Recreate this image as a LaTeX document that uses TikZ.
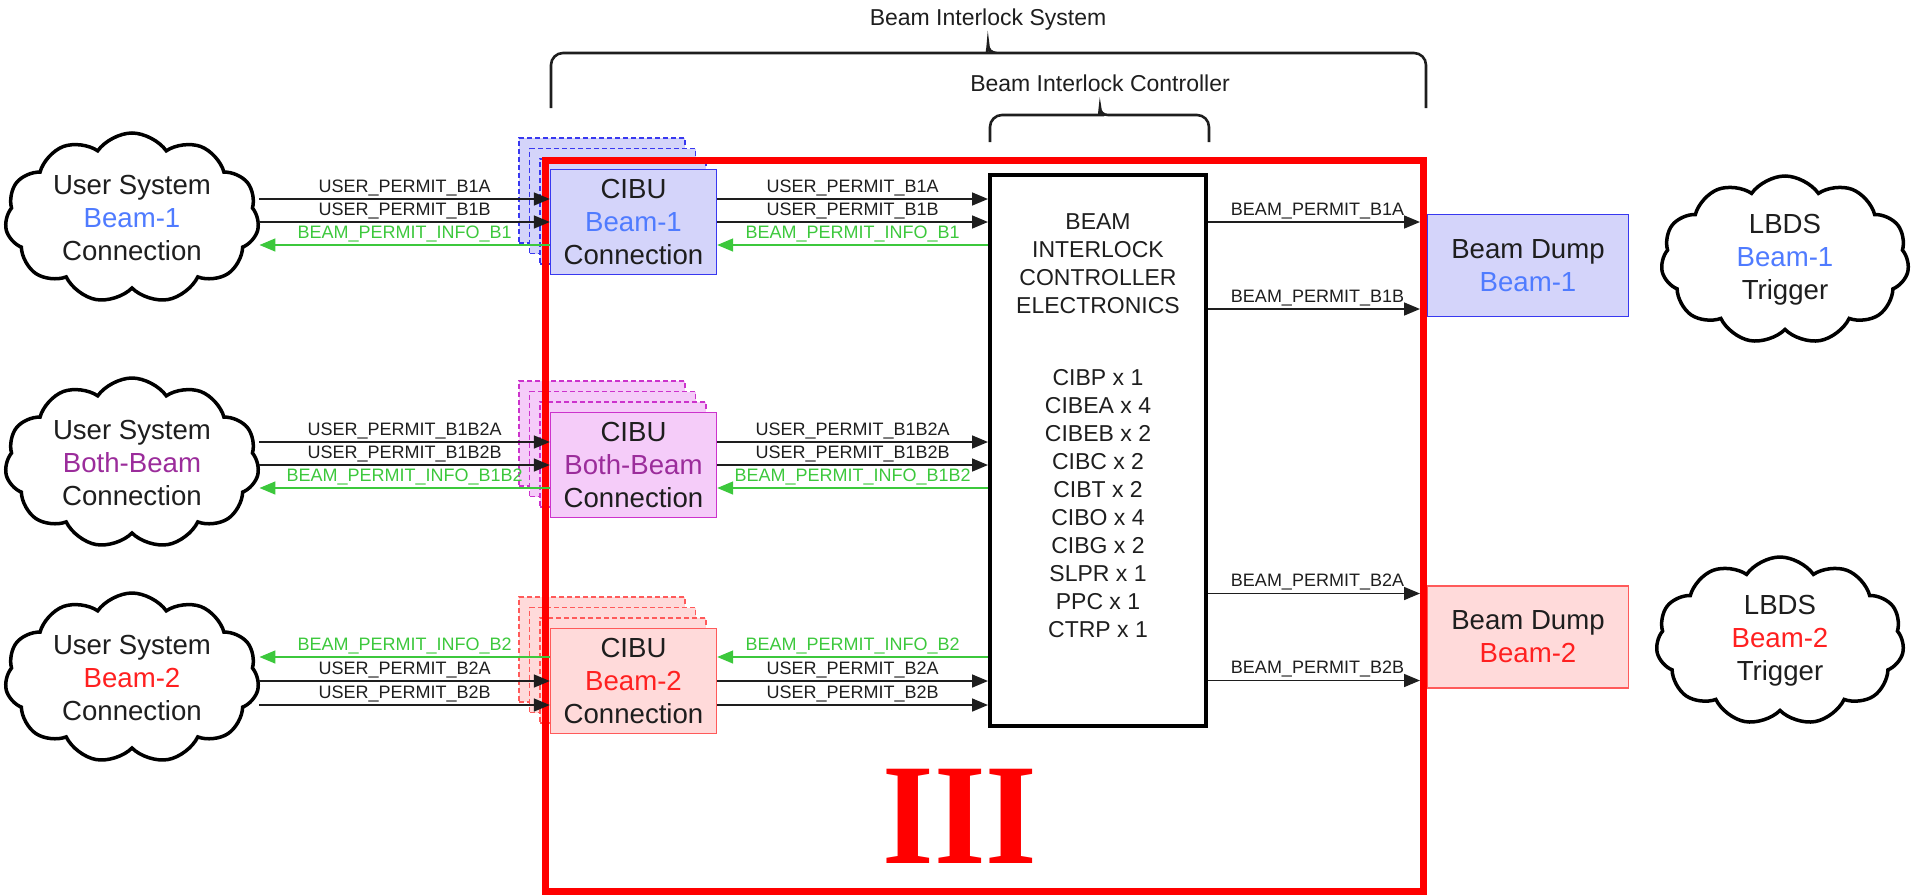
\documentclass[tikz,border=0pt]{standalone}
\usepackage{fontspec}
\setmainfont{Liberation Sans}
\newfontfamily\seriffont{Liberation Serif}
\usetikzlibrary{arrows.meta,positioning,calc,backgrounds,shapes.symbols}
\definecolor{cBlue}{HTML}{4F7BFF}
\definecolor{cBlueLine}{HTML}{3838F0}
\definecolor{cBlueFill}{HTML}{D4D4FA}
\definecolor{cViolet}{HTML}{9B2C9B}
\definecolor{cVioletLine}{HTML}{CC33CC}
\definecolor{cVioletFill}{HTML}{F5CCF9}
\definecolor{cRed}{HTML}{FF2020}
\definecolor{cRedLine}{HTML}{FF5A5A}
\definecolor{cRedFill}{HTML}{FFDADA}
\definecolor{cGreen}{HTML}{3CC83C}
\definecolor{cInk}{HTML}{1E1E1E}
\definecolor{cFrame}{HTML}{FF0000}
\newcommand\boxfont{\fontsize{13.8}{16.5}\selectfont}
\newcommand\bicfont{\fontsize{11.5}{14}\selectfont}
\newcommand\lblfont{\fontsize{9}{10}\selectfont}
\newcommand\capfont{\fontsize{11.5}{13}\selectfont}
\tikzset{
  >={Triangle[length=8pt,width=6.5pt]},
  usr/.style   ={cloud,cloud puffs=11,cloud puff arc=110,cloud ignores aspect,
                 draw=black,line width=1.75pt,fill=white,inner sep=0pt,
                 minimum width=127pt,minimum height=85pt,align=center,
                 font=\boxfont,text=cInk},
  lbds/.style  ={usr,minimum width=124pt,minimum height=84pt},
  cibu/.style  ={draw,line width=0.7pt,minimum width=83pt,minimum height=52.5pt,
                 align=center,font=\boxfont,text=cInk},
  cibuB1/.style={cibu,draw=cBlueLine,fill=cBlueFill},
  cibuBB/.style={cibu,draw=cVioletLine,fill=cVioletFill},
  cibuB2/.style={cibu,draw=cRedLine,fill=cRedFill},
  ghost/.style ={dash pattern=on 2.5pt off 1.5pt},
  dumpB1/.style={cibuB1,minimum width=100.3pt,minimum height=51pt},
  dumpB2/.style={cibuB2,minimum width=100.3pt,minimum height=51pt},
  bic/.style   ={draw=black,line width=2pt,minimum width=108pt,minimum height=275.5pt},
  bictext/.style={align=center,font=\bicfont,text=cInk,inner sep=0pt},
  sig/.style   ={->,line width=0.8pt,cInk},
  info/.style  ={->,line width=0.8pt,cGreen},
  lbl/.style   ={font=\lblfont,inner sep=1.2pt,text=cInk},
  glbl/.style  ={lbl,text=cGreen},
  captext/.style={font=\capfont,text=cInk},
  brace/.style ={line width=1.3pt,cInk},
  frame/.style ={draw=cFrame,line width=3.5pt},
  roman/.style ={font=\seriffont\bfseries\fontsize{72}{72}\selectfont,text=cFrame},
}
\begin{document}
\begin{tikzpicture}[x=0.5pt,y=-0.5pt]
\useasboundingbox (0,0) rectangle (1911,895);

\node[usr] (usr1) at (132,218) {User System\\{\color{cBlue}Beam-1}\\Connection};
\node[usr] (usr2) at (132,463) {User System\\{\color{cViolet}Both-Beam}\\Connection};
\node[usr] (usr3) at (132,678) {User System\\{\color{cRed}Beam-2}\\Connection};

\node[cibuB1] (cibuA) at (633.5,222) {CIBU\\{\color{cBlue}Beam-1}\\Connection};
\node[cibuBB] (cibuB) at (633.5,465) {CIBU\\{\color{cViolet}Both-Beam}\\Connection};
\node[cibuB2] (cibuC) at (633.5,681) {CIBU\\{\color{cRed}Beam-2}\\Connection};
\begin{scope}[on background layer]
\foreach \k in {3,2,1}{
  \node[cibuB1,ghost] (cibuA\k) at ($(cibuA)+(-10.5*\k,-10.5*\k)$) {};
  \node[cibuBB,ghost] (cibuB\k) at ($(cibuB)+(-10.5*\k,-10.5*\k)$) {};
  \node[cibuB2,ghost] (cibuC\k) at ($(cibuC)+(-10.5*\k,-10.5*\k)$) {};
}
\end{scope}

\node[bic] (bic) at (1098,450.5) {};
\node[bictext] (bichead) at (1098,263.5) {BEAM\\INTERLOCK\\CONTROLLER\\ELECTRONICS};
\node[bictext] (biclist) at (1098,503.5) {CIBP x 1\\CIBEA x 4\\CIBEB x 2\\CIBC x 2\\CIBT x 2\\CIBO x 4\\CIBG x 2\\SLPR x 1\\PPC x 1\\CTRP x 1};

\node[dumpB1] (dumpA) at (1528,265.5) {Beam Dump\\{\color{cBlue}Beam-1}};
\node[dumpB2] (dumpB) at (1528,637) {Beam Dump\\{\color{cRed}Beam-2}};
\node[lbds] (lbdsA) at (1785,260) {LBDS\\{\color{cBlue}Beam-1}\\Trigger};
\node[lbds] (lbdsB) at (1780,641) {LBDS\\{\color{cRed}Beam-2}\\Trigger};

\draw[frame] (545,160) rectangle (1423,891);
\node[roman] (romanIII) at (960,816) {\scalebox{0.92}[1]{III}};

\draw[brace] (551,108) [rounded corners=6pt] |- (978,53) [sharp corners]
  .. controls (985,53) and (988,50) .. (988,43)
  .. controls (988,50) and (991,53) .. (998,53) [rounded corners=6pt] -| (1426,108);
\node[captext] (biscap) at (988,20) {Beam Interlock System};
\draw[brace] (990,142) [rounded corners=6pt] |- (1092,115) [sharp corners]
  .. controls (1097,115) and (1100,112) .. (1100,107)
  .. controls (1100,112) and (1103,115) .. (1108,115) [rounded corners=6pt] -| (1209,142);
\node[captext] (biccap) at (1100,83) {Beam Interlock Controller};

\draw[sig] ($(usr1.east|-cibuA)+(0,-23)$) -- ($(cibuA.west)+(0,-23)$) node[lbl,midway,above]{USER\_PERMIT\_B1A};
\draw[sig] (usr1.east|-cibuA) -- (cibuA.west) node[lbl,midway,above]{USER\_PERMIT\_B1B};
\draw[info] ($(cibuA.west)+(0,23)$) -- ($(usr1.east|-cibuA)+(0,23)$) node[glbl,midway,above]{BEAM\_PERMIT\_INFO\_B1};
\draw[sig] ($(cibuA.east)+(0,-23)$) -- ($(bic.west|-cibuA)+(0,-23)$) node[lbl,midway,above]{USER\_PERMIT\_B1A};
\draw[sig] (cibuA.east) -- (bic.west|-cibuA) node[lbl,midway,above]{USER\_PERMIT\_B1B};
\draw[info] ($(bic.west|-cibuA)+(0,23)$) -- ($(cibuA.east)+(0,23)$) node[glbl,midway,above]{BEAM\_PERMIT\_INFO\_B1};

\draw[sig] ($(usr2.east|-cibuB)+(0,-23)$) -- ($(cibuB.west)+(0,-23)$) node[lbl,midway,above]{USER\_PERMIT\_B1B2A};
\draw[sig] (usr2.east|-cibuB) -- (cibuB.west) node[lbl,midway,above]{USER\_PERMIT\_B1B2B};
\draw[info] ($(cibuB.west)+(0,23)$) -- ($(usr2.east|-cibuB)+(0,23)$) node[glbl,midway,above]{BEAM\_PERMIT\_INFO\_B1B2};
\draw[sig] ($(cibuB.east)+(0,-23)$) -- ($(bic.west|-cibuB)+(0,-23)$) node[lbl,midway,above]{USER\_PERMIT\_B1B2A};
\draw[sig] (cibuB.east) -- (bic.west|-cibuB) node[lbl,midway,above]{USER\_PERMIT\_B1B2B};
\draw[info] ($(bic.west|-cibuB)+(0,23)$) -- ($(cibuB.east)+(0,23)$) node[glbl,midway,above]{BEAM\_PERMIT\_INFO\_B1B2};

\draw[info] ($(cibuC.west)+(0,-24)$) -- ($(usr3.east|-cibuC)+(0,-24)$) node[glbl,midway,above]{BEAM\_PERMIT\_INFO\_B2};
\draw[sig] (usr3.east|-cibuC) -- (cibuC.west) node[lbl,midway,above]{USER\_PERMIT\_B2A};
\draw[sig] ($(usr3.east|-cibuC)+(0,24)$) -- ($(cibuC.west)+(0,24)$) node[lbl,midway,above]{USER\_PERMIT\_B2B};
\draw[info] ($(bic.west|-cibuC)+(0,-24)$) -- ($(cibuC.east)+(0,-24)$) node[glbl,midway,above]{BEAM\_PERMIT\_INFO\_B2};
\draw[sig] (cibuC.east) -- (bic.west|-cibuC) node[lbl,midway,above]{USER\_PERMIT\_B2A};
\draw[sig] ($(cibuC.east)+(0,24)$) -- ($(bic.west|-cibuC)+(0,24)$) node[lbl,midway,above]{USER\_PERMIT\_B2B};

\draw[sig,shorten >=3.5pt] ($(bic.east|-dumpA)+(0,-43.5)$) -- ($(dumpA.west)+(0,-43.5)$) node[lbl,midway,above]{BEAM\_PERMIT\_B1A};
\draw[sig,shorten >=3.5pt] ($(bic.east|-dumpA)+(0,43.5)$) -- ($(dumpA.west)+(0,43.5)$) node[lbl,midway,above]{BEAM\_PERMIT\_B1B};
\draw[sig,shorten >=3.5pt] ($(bic.east|-dumpB)+(0,-43.5)$) -- ($(dumpB.west)+(0,-43.5)$) node[lbl,midway,above]{BEAM\_PERMIT\_B2A};
\draw[sig,shorten >=3.5pt] ($(bic.east|-dumpB)+(0,43.5)$) -- ($(dumpB.west)+(0,43.5)$) node[lbl,midway,above]{BEAM\_PERMIT\_B2B};
\end{tikzpicture}
\end{document}
